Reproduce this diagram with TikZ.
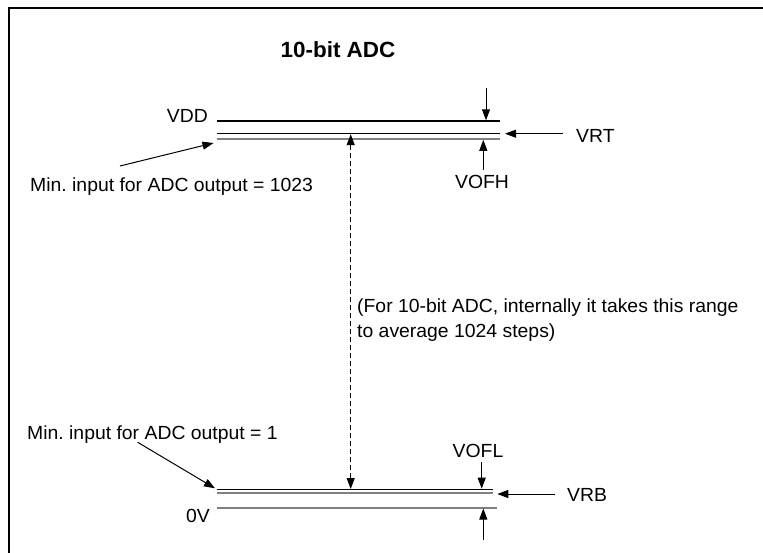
\documentclass[tikz,border=0pt]{standalone}
\usepackage{fontspec}
\setmainfont[FakeStretch=1.02]{Liberation Sans}
\usetikzlibrary{arrows.meta}
\begin{document}
\begin{tikzpicture}[x=1pt,y=-1pt,
  blackline/.style={line width=1.1pt, black},
  grayline/.style={line width=2pt, black!50},
  arr/.style={line width=1pt, -{Triangle[length=11pt,width=8pt]}},
  dasharr/.style={line width=1.2pt, dash pattern=on 5pt off 3pt, {Triangle[length=11pt,width=8pt]}-{Triangle[length=11pt,width=8pt]}},
  lbl/.style={inner sep=0pt, font=\fontsize{19}{23}\selectfont},
  ttl/.style={inner sep=0pt, font=\fontsize{22}{26}\selectfont\bfseries},
]
\useasboundingbox (0,0) rectangle (763,552);
% frame (cropped box)
\draw[line width=2.5pt] (9,553) -- (9,8) -- (764,8);

% title
\node[ttl, anchor=base] (title) at (338,57) {10-bit ADC};

% upper lines
\coordinate (vddL) at (216.7,121);   \coordinate (vddR) at (499.5,121);
\coordinate (vrtL) at (216.7,133.7); \coordinate (vrtR) at (499.5,133.7);
\coordinate (vofhL) at (216.7,138.7);\coordinate (vofhR) at (499.5,138.7);
\draw[blackline] (vddL) -- (vddR);
\draw[blackline] (vrtL) -- (vrtR);
\draw[grayline] (vofhL) -- (vofhR);

% lower lines
\coordinate (voflL) at (216.7,489.3); \coordinate (voflR) at (492.7,489.3);
\coordinate (vrbL) at (216.7,493.3);  \coordinate (vrbR) at (492.7,493.3);
\coordinate (zeroL) at (217,507.5);   \coordinate (zeroR) at (496.7,507.5);
\draw[blackline] (voflL) -- (voflR);
\draw[grayline] (vrbL) -- (vrbR);
\draw[grayline] (zeroL) -- (zeroR);

% labels
\node[lbl, anchor=base east] (vdd) at (208,122) {VDD};
\node[lbl, anchor=base west] (vrt) at (576,142) {VRT};
\node[lbl, anchor=base] (vofh) at (482,188) {VOFH};
\node[lbl, anchor=base west] (min1023) at (30,191) {Min.\ input for ADC output = 1023};
\node[lbl, anchor=base west] (rng1) at (357,312) {(For 10-bit ADC, internally it takes this range};
\node[lbl, anchor=base west] (rng2) at (357,337) {to average 1024 steps)};
\node[lbl, anchor=base west] (min1) at (27,439) {Min.\ input for ADC output = 1};
\node[lbl, anchor=base] (vofl) at (478,457.5) {VOFL};
\node[lbl, anchor=base west] (vrb) at (567,501) {VRB};
\node[lbl, anchor=base east] (zerov) at (210,522) {0V};

% arrow end points
\coordinate (topIn) at (486,88);     \coordinate (topTip) at (486,120.3);
\coordinate (vofhIn) at (483.3,170); \coordinate (vofhTip) at (483.3,139.8);
\coordinate (vrtIn) at (563,133.7);  \coordinate (vrtTip) at (505,133.7);
\coordinate (a1023In) at (120,166);  \coordinate (a1023Tip) at (213.5,143);
\coordinate (a1In) at (137.7,442.3); \coordinate (a1Tip) at (215,488.3);
\coordinate (rngTop) at (350.7,134.2); \coordinate (rngBot) at (350.7,489);
\coordinate (voflIn) at (481.7,461.7); \coordinate (voflTip) at (481.7,488.7);
\coordinate (vrbIn) at (555,494);    \coordinate (vrbTip) at (497.3,494);
\coordinate (botIn) at (483.3,540);  \coordinate (botTip) at (483.3,508.5);

\draw[arr] (topIn) -- (topTip);
\draw[arr] (vofhIn) -- (vofhTip);
\draw[arr] (vrtIn) -- (vrtTip);
\draw[arr] (a1023In) -- (a1023Tip);
\draw[arr] (a1In) -- (a1Tip);
\draw[dasharr] (rngTop) -- (rngBot);
\draw[arr] (voflIn) -- (voflTip);
\draw[arr] (vrbIn) -- (vrbTip);
\draw[arr] (botIn) -- (botTip);
\end{tikzpicture}
\end{document}
